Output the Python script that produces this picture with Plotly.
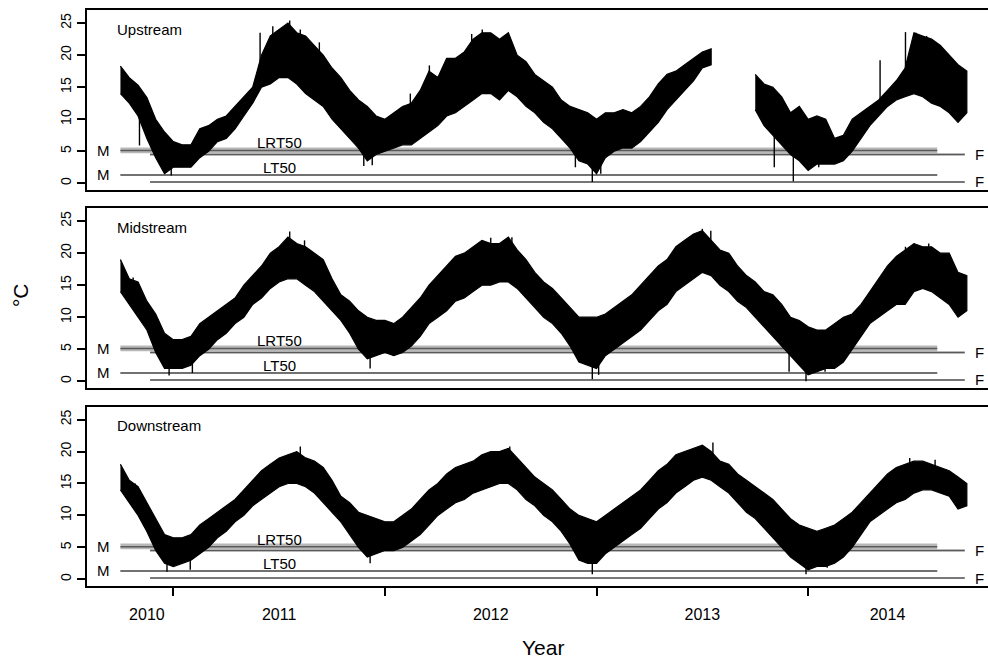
import plotly.graph_objects as go

# ---------------- data ----------------
# semimonthly samples, 1 Oct 2010 .. 1 Oct 2014 (decimal years)
T_START = 2010.75
N_SAMPLES = 97
time = [round(T_START + k / 24, 5) for k in range(N_SAMPLES)]

# envelopes (upper / lower) of the temperature trace, deg C
up_hi = [18.3, 16.5, 15.3, 13.4, 10, 8, 6.5, 6, 6, 8.5,
         9, 10, 10.5, 12, 13.5, 15, 20, 23, 24, 25,
         23.5, 23, 21.5, 20, 18, 16.5, 14.5, 13, 12, 10.5,
         10, 11, 12, 12.5, 14.5, 17.5, 16.5, 19.5, 19.5, 20.5,
         22.5, 23.5, 23.5, 22.5, 23.5, 20, 19, 17, 16, 15,
         13, 12, 11.5, 11, 10, 11, 11, 11.5, 11, 12,
         13.5, 15.5, 17, 17.5, 18.5, 19.5, 20.5, 21, None, None,
         None, None, 17, 15.5, 15, 13.5, 11, 12, 10, 10.5,
         10, 7, 7.5, 10, 11, 12, 13, 14.5, 16, 18,
         23.5, 23, 22.5, 21.5, 20, 18.5, 17.5]
up_lo = [14, 12.5, 10.5, 7, 4, 1.5, 2.5, 2.5, 2.5, 4,
         5, 6.5, 7, 8.5, 10.5, 12.5, 15, 15.5, 16.5, 16.5,
         15.5, 14, 13, 12, 10, 8.5, 7, 5.5, 3.5, 4.5,
         5, 5.5, 6, 6, 7, 8, 9, 10.5, 11, 12,
         13, 14, 14, 13, 14.5, 13.5, 12, 11, 9.5, 8.5,
         7, 5.5, 3.5, 3, 1.5, 4, 5, 5.5, 5.5, 6.5,
         8, 9.5, 11.5, 13, 14.5, 16, 18, 18.5, None, None,
         None, None, 11.5, 9, 7.5, 6, 4.5, 3.5, 2, 3,
         3, 3, 3.5, 5, 7, 9, 10.5, 12, 13, 13.5,
         14, 13.5, 12.5, 12, 11, 9.5, 11]

mid_hi = [19, 16, 15.5, 12.5, 10.5, 7.5, 6.5, 6.5, 7, 9,
          10, 11, 12, 13, 15, 16.5, 18, 20, 21, 22.5,
          21.5, 21, 20, 19, 16, 13.5, 12.5, 11, 10, 9.5,
          9.5, 9, 10, 11.5, 13, 15, 16.5, 18, 19.5, 20,
          21, 22, 21.5, 21.5, 22.5, 20.5, 19, 17, 15.5, 14.5,
          13, 11.5, 10, 10, 10, 10.5, 11.5, 12.5, 13.5, 15,
          16.5, 18, 19, 21, 22, 23, 23.5, 22, 20.5, 20,
          18, 16.5, 15.5, 14, 13.5, 12, 10, 9.5, 8.5, 8,
          8, 9, 10, 10.5, 12, 14, 16, 18, 19.5, 20.5,
          21.5, 21, 21, 20, 20, 17, 16.5]
mid_lo = [14, 12, 10, 8, 4.5, 2, 2, 2, 2.5, 4,
          5, 6.5, 7.5, 9, 10, 12, 13, 14.5, 15.5, 16,
          16, 15, 14, 12.5, 11, 9.5, 7.5, 5, 3.5, 4,
          4.5, 4, 4.5, 5.5, 7, 9, 10, 11, 12.5, 13,
          14, 15, 15, 15.5, 15.5, 14.5, 13, 11.5, 10, 9,
          7.5, 5.5, 3, 2.5, 2, 4, 5, 6, 7, 8,
          9.5, 11, 12, 14, 15, 16, 17, 16.5, 15, 14,
          12.5, 11.5, 10, 8.5, 7, 5.5, 4, 2.5, 1, 1.5,
          2, 2, 3, 5, 7, 9, 10, 11, 12, 12,
          14, 14.5, 14, 13, 12, 10, 11]

down_hi = [18, 15.5, 14.5, 12, 9.5, 7, 6.5, 6.5, 7, 8.5,
           9.5, 10.5, 11.5, 12.5, 14, 15.5, 17, 18, 19, 19.5,
           20, 19, 18.5, 17.5, 15.5, 13, 12, 10.5, 10, 9.5,
           9, 9, 10, 11, 12.5, 14, 15, 16.5, 17.5, 18,
           18.5, 19.5, 20, 20, 20.5, 19, 17.5, 16, 15, 14,
           12.5, 11, 10, 9.5, 9, 10, 11, 12, 13, 14,
           15.5, 17, 18, 19.5, 20, 20.5, 21, 20, 18.5, 18,
           16.5, 15.5, 14.5, 13.5, 12.5, 11, 9.5, 8.5, 8, 7.5,
           8, 8.5, 9.5, 10.5, 12, 13.5, 15, 16.5, 17.5, 18,
           18.5, 18.5, 18, 17.5, 17, 16, 15]
down_lo = [14, 12, 10, 7.5, 4.5, 2.5, 2, 2.5, 3, 4,
           5, 6.5, 7.5, 9, 10, 11.5, 12.5, 13.5, 14.5, 15,
           15, 14.5, 13.5, 12, 10.5, 9, 7, 5, 3.5, 4,
           4.5, 4.5, 5, 6, 7, 8.5, 10, 11, 12, 12.5,
           13.5, 14, 14.5, 15, 15, 14, 12.5, 11.5, 10, 9,
           7.5, 5.5, 3, 2.5, 2.5, 4, 5, 6, 7, 8,
           9.5, 11, 12, 13.5, 14.5, 15.5, 16, 15.5, 14.5, 13.5,
           12, 10.5, 9.5, 8, 6.5, 5, 3.5, 2.5, 1.5, 2,
           2, 2.5, 3.5, 5, 7, 9, 10, 11, 12, 12.5,
           13.5, 14, 14, 13.5, 13, 11, 11.5]

# individual daily extremes (spikes) seen beyond the envelopes: (decimal year, deg C)
up_spikes_t = [2010.84, 2010.99, 2011.41, 2011.47, 2011.55, 2011.60, 2011.69,
               2011.90, 2011.94, 2012.12, 2012.21, 2012.41, 2012.46, 2012.63,
               2012.90, 2012.98, 2013.02, 2013.84, 2013.93, 2013.99, 2014.05,
               2014.15, 2014.34, 2014.46, 2014.51, 2014.56]
up_spikes_v = [5.9, 1.2, 23.5, 24.5, 25.4, 24.0, 22.0,
               2.7, 2.8, 14.0, 18.4, 23.3, 24.0, 17.5,
               2.5, 0.2, 1.5, 2.5, 0.3, 2.5, 2.5,
               5.0, 19.2, 23.6, 23.5, 23.0]
mid_spikes_t = [2010.81, 2010.98, 2011.09, 2011.55, 2011.62, 2011.93, 2012.50,
                2012.60, 2012.98, 2013.01, 2013.50, 2013.54, 2013.91, 2013.99,
                2014.08, 2014.46, 2014.57]
mid_spikes_v = [16.2, 0.9, 1.3, 23.4, 22.0, 2.0, 22.4,
                22.5, 0.3, 1.0, 23.8, 23.5, 1.5, 0.0,
                1.5, 21.0, 21.5]
down_spikes_t = [2010.82, 2010.97, 2011.08, 2011.60, 2011.93, 2012.59,
                 2012.98, 2013.55, 2013.99, 2014.09, 2014.48, 2014.60]
down_spikes_v = [15.0, 1.2, 1.5, 20.8, 2.5, 20.8,
                 0.8, 21.4, 0.8, 1.8, 19.0, 18.7]

panel_names = ["Upstream", "Midstream", "Downstream"]

# thresholds: (label, sex, value, lower, upper, start, end)
thr_label = ["LRT50", "LRT50", "LT50", "LT50"]
thr_sex = ["M", "F", "M", "F"]
thr_val = [5.1, 4.5, 1.3, 0.2]
thr_lo = [4.7, 4.35, 1.15, 0.1]
thr_hi = [5.6, 4.65, 1.45, 0.3]
thr_start = [2010.75, 2010.89, 2010.75, 2010.89]
thr_end = [2014.61, 2014.74, 2014.61, 2014.74]

year_labels = ["2010", "2011", "2012", "2013", "2014"]
year_label_pos = [2010.875, 2011.5, 2012.5, 2013.5, 2014.375]
year_boundaries = [2011, 2012, 2013, 2014]
y_ticks = [0, 5, 10, 15, 20, 25]

# ---------------- figure ----------------
FONT = "Liberation Sans, Arial, Helvetica, sans-serif"
fig = go.Figure()

domains = [[0.6875, 1.0], [0.34375, 0.65625], [0.0, 0.3116]]
xnames = ["x2", "x3", "x"]
ynames = ["y2", "y3", "y"]
series = [(up_hi, up_lo), (mid_hi, mid_lo), (down_hi, down_lo)]
spikes = [(up_spikes_t, up_spikes_v), (mid_spikes_t, mid_spikes_v),
          (down_spikes_t, down_spikes_v)]

BAND = "#b8b8b8"
LINE = "#5a5a5a"


def segments(t, hi, lo):
    segs, cur = [], []
    for a, b, c in zip(t, hi, lo):
        if b is None or c is None:
            if cur:
                segs.append(cur)
            cur = []
        else:
            cur.append((a, b, c))
    if cur:
        segs.append(cur)
    return segs


def nearest_mid(t, hi, lo, tq):
    best = None
    for a, b, c in zip(t, hi, lo):
        if b is None:
            continue
        if best is None or abs(a - tq) < abs(best[0] - tq):
            best = (a, (b + c) / 2)
    return best[1]


for p in range(3):
    xa, ya = xnames[p], ynames[p]
    # threshold bands and lines
    for i in range(4):
        xs = [thr_start[i], thr_end[i], thr_end[i], thr_start[i], thr_start[i]]
        ys = [thr_lo[i], thr_lo[i], thr_hi[i], thr_hi[i], thr_lo[i]]
        fig.add_trace(go.Scatter(x=xs, y=ys, xaxis=xa, yaxis=ya, mode="lines",
                                 fill="toself", fillcolor=BAND,
                                 line=dict(width=0, color=BAND),
                                 showlegend=False, hoverinfo="skip"))
        fig.add_trace(go.Scatter(x=[thr_start[i], thr_end[i]], y=[thr_val[i], thr_val[i]],
                                 xaxis=xa, yaxis=ya, mode="lines",
                                 line=dict(width=1.5, color=LINE),
                                 showlegend=False, hoverinfo="skip"))
    # temperature trace envelope
    hi, lo = series[p]
    for seg in segments(time, hi, lo):
        ts = [s[0] for s in seg]
        hs = [s[1] for s in seg]
        ls = [s[2] for s in seg]
        fig.add_trace(go.Scatter(x=ts + ts[::-1], y=hs + ls[::-1], xaxis=xa, yaxis=ya,
                                 mode="lines", fill="toself", fillcolor="black",
                                 line=dict(width=1.2, color="black"),
                                 showlegend=False, hoverinfo="skip"))
    # spikes
    sx, sy = [], []
    for tq, v in zip(*spikes[p]):
        sx += [tq, tq, None]
        sy += [nearest_mid(time, hi, lo, tq), v, None]
    fig.add_trace(go.Scatter(x=sx, y=sy, xaxis=xa, yaxis=ya, mode="lines",
                             line=dict(width=1.4, color="black"),
                             showlegend=False, hoverinfo="skip"))

annotations = []
for p in range(3):
    xa, ya = xnames[p], ynames[p]
    annotations.append(dict(x=2010.726, y=24.0, xref=xa, yref=ya, text=panel_names[p],
                            showarrow=False, xanchor="left", yanchor="middle",
                            font=dict(size=15, family=FONT, color="black")))
    for i in range(4):
        if thr_sex[i] == "M":
            annotations.append(dict(x=thr_start[i], y=thr_val[i], xref=xa, yref=ya,
                                    text="M", showarrow=False, xanchor="right",
                                    yanchor="middle", xshift=-8,
                                    font=dict(size=15, family=FONT, color="black")))
            annotations.append(dict(x=2011.5, y=thr_val[i] + 1.2, xref=xa, yref=ya,
                                    text=thr_label[i], showarrow=False, xanchor="center",
                                    yanchor="middle",
                                    font=dict(size=15, family=FONT, color="black")))
        else:
            annotations.append(dict(x=thr_end[i], y=thr_val[i], xref=xa, yref=ya,
                                    text="F", showarrow=False, xanchor="left",
                                    yanchor="middle", xshift=8,
                                    font=dict(size=15, family=FONT, color="black")))

annotations.append(dict(x=-0.0744, y=0.505, xref="paper", yref="paper", text="°C",
                        textangle=-90, showarrow=False, xanchor="center", yanchor="middle",
                        font=dict(size=21, family=FONT, color="black")))
annotations.append(dict(x=0.506, y=-0.1076, xref="paper", yref="paper", text="Year",
                        showarrow=False, xanchor="center", yanchor="middle",
                        font=dict(size=21, family=FONT, color="black")))

XR = [2010.592, 2014.850]
YR = [-1.05, 27.05]

common_x = dict(range=XR, showgrid=False, zeroline=False, showline=True, mirror=True,
                linecolor="black", linewidth=2)
common_y = dict(range=YR, showgrid=False, zeroline=False, showline=True, mirror=False,
                linecolor="black", linewidth=2, tickmode="array", tickvals=y_ticks,
                ticks="outside", ticklen=8, tickwidth=1.5, tickcolor="black",
                tickangle=-90, tickfont=dict(size=14, family=FONT, color="black"))

fig.update_layout(
    width=988, height=661,
    margin=dict(l=87, r=0, t=10, b=75),
    plot_bgcolor="white", paper_bgcolor="white",
    showlegend=False,
    annotations=annotations,
    xaxis=dict(**common_x, anchor="y", domain=[0, 1], tickmode="array",
               tickvals=year_label_pos, ticktext=year_labels, ticks="",
               ticklabelstandoff=13,
               tickfont=dict(size=16, family=FONT, color="black"),
               minor=dict(tickmode="array", tickvals=year_boundaries, ticks="outside",
                          ticklen=8, tickwidth=1.5, tickcolor="black", showgrid=False)),
    xaxis2=dict(**common_x, anchor="y2", domain=[0, 1], showticklabels=False, ticks=""),
    xaxis3=dict(**common_x, anchor="y3", domain=[0, 1], showticklabels=False, ticks=""),
    yaxis=dict(**common_y, anchor="x", domain=domains[2]),
    yaxis2=dict(**common_y, anchor="x2", domain=domains[0]),
    yaxis3=dict(**common_y, anchor="x3", domain=domains[1]),
)

fig.write_html("out.html", config={"displayModeBar": False},
               post_script="document.body.style.margin='0';"
                           "document.body.style.overflow='hidden';")
